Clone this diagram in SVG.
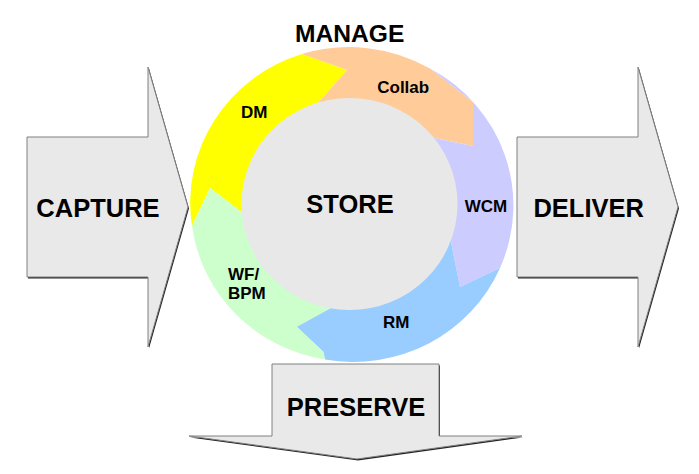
<svg xmlns="http://www.w3.org/2000/svg" width="699" height="474" viewBox="0 0 699 474">
<style>
.big{font-family:"Liberation Sans",Arial,sans-serif;font-weight:bold;font-size:25.5px;fill:#000;text-anchor:middle}
.small{font-family:"Liberation Sans",Arial,sans-serif;font-weight:bold;font-size:17px;fill:#000;text-anchor:middle}
.block{fill:#E9E9E9;stroke:#808080;stroke-width:1;stroke-linejoin:miter}
.shadow{fill:#222}
</style>
<rect width="699" height="474" fill="#fff"/>
<g id="connectors"/>
<g id="capture">
<polygon class="shadow" transform="translate(1,1.5)" points="27,137 148,137 148,67 188,207 148,347 148,277 27,277"/>
<polygon class="block" points="27,137 148,137 148,67 188,207 148,347 148,277 27,277"/>
<text class="big" x="98" y="216.7">CAPTURE</text>
</g>
<g id="deliver">
<polygon class="shadow" transform="translate(1,1.5)" points="517,137 638,137 638,67 678,207 638,347 638,277 517,277"/>
<polygon class="block" points="517,137 638,137 638,67 678,207 638,347 638,277 517,277"/>
<text class="big" x="588.7" y="216.7">DELIVER</text>
</g>
<g id="preserve">
<polygon class="shadow" transform="translate(1,1.5)" points="272,364 439,364 439,436 522,436 357,459 189,436 272,436"/>
<polygon class="block" points="272,364 439,364 439,436 522,436 357,459 189,436 272,436"/>
<text class="big" x="356" y="415.7">PRESERVE</text>
</g>
<g id="manage">
<text class="big" x="349.7" y="41.7" style="font-size:24.6px">MANAGE</text>
</g>
<g id="dm">
<path fill="#FFFF00" d="M192,226 A160,156 0 0 1 302,54 L347,70 L312.7,109 L349.5,204 L248.8,217.6 L210,188 Z"/>
<text class="small" x="254.2" y="117.7">DM</text>
</g>
<g id="collab">
<path fill="#FFCC99" d="M302,54 A160,156 0 0 1 430,68.5 L473,102 L473,146 L427.2,136.4 L349.5,204 L312.7,109 L347,70 Z"/>
<text class="small" x="403.2" y="93.3">Collab</text>
</g>
<g id="wcm">
<path fill="#CCCCFF" d="M430,68.5 A160,156 0 0 1 500,268 L460,287 L450.4,239 L349.5,204 L427.2,136.4 L473,146 L473,102 Z"/>
<text class="small" x="486" y="211.7">WCM</text>
</g>
<g id="rm">
<path fill="#99CCFF" d="M500,268 A160,156 0 0 1 325,359.5 L323.3,351.7 L296.7,326.7 L337,304.4 L349.5,204 L450.4,239 L460,287 Z"/>
<text class="small" x="396.2" y="327.7">RM</text>
</g>
<g id="wfbpm">
<path fill="#CCFFCC" d="M325,359.5 A160,156 0 0 1 192,226 L210,188 L248.8,217.6 L349.5,204 L337,304.4 L296.7,326.7 L323.3,351.7 Z"/>
<text class="small" x="228" y="280" style="text-anchor:start">WF/</text>
<text class="small" x="228" y="299.3" style="text-anchor:start">BPM</text>
</g>
<g id="store">
<ellipse cx="349.5" cy="204" rx="108" ry="106" fill="#E8E8E8"/>
<text class="big" x="350" y="213.3">STORE</text>
</g>
</svg>
